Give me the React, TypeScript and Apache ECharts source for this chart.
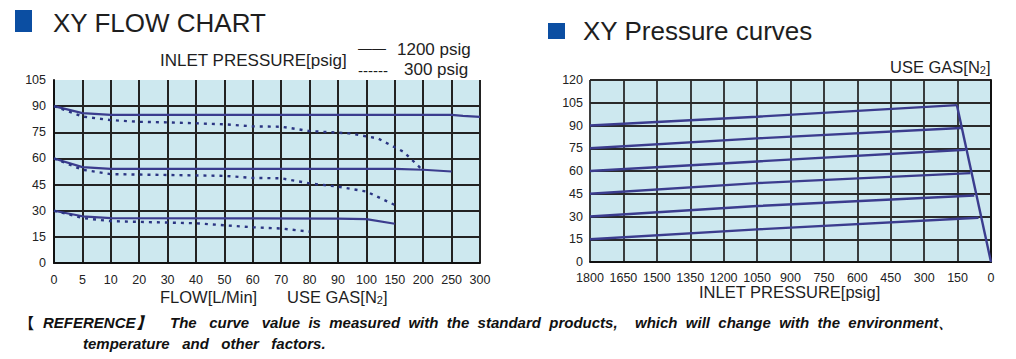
import React, { useEffect, useRef } from "react";
import * as echarts from "echarts";

// ---------- Left chart: XY FLOW CHART ----------
const flowTicks = [0, 5, 10, 20, 30, 40, 50, 60, 70, 80, 90, 100, 150, 200, 250, 300];

// 1200 psig (solid)
const hi90Flow = [0, 5, 10, 250, 270, 300];
const hi90Out = [90, 86, 85, 85, 84.4, 83.8];
const hi60Flow = [0, 5, 10, 150, 200, 250];
const hi60Out = [60, 55, 54, 54, 53.5, 52.5];
const hi30Flow = [0, 5, 10, 90, 100, 150];
const hi30Out = [30, 26.8, 25.8, 25.5, 25.2, 22.5];

// 300 psig (dotted)
const lo90Flow = [0, 5, 10, 20, 30, 50, 60, 70, 80, 94, 120, 150, 165, 200];
const lo90Out = [90, 84, 82, 81, 80.7, 79.6, 78.4, 78.2, 75.7, 74.4, 71.5, 66.4, 63.9, 53];
const lo60Flow = [0, 5, 10, 50, 60, 70, 80, 90, 100, 150];
const lo60Out = [60, 53.5, 51, 50, 48.8, 48.6, 45.7, 43.8, 41, 33.3];
const lo30Flow = [0, 5, 10, 40, 60, 70, 80];
const lo30Out = [30, 25.8, 24, 22.8, 20.5, 19.8, 18];

// ---------- Right chart: XY Pressure curves ----------
const p90In = [1800, 1050, 153];
const p90Out = [90, 95.8, 103.4];
const p75In = [1800, 1050, 135];
const p75Out = [75, 81.5, 88.4];
const p60In = [1800, 1050, 115];
const p60Out = [60, 66.3, 74];
const p45In = [1800, 1050, 93];
const p45Out = [45, 52, 58.6];
const p30In = [1800, 1050, 75];
const p30Out = [30, 36.9, 43.8];
const p15In = [1800, 1050, 56];
const p15Out = [15, 21.5, 29.2];
const dropIn = [153, 0];
const dropOut = [103.4, 0];

function flowToPos(f: number): number {
  for (let i = 0; i < flowTicks.length - 1; i++) {
    const a = flowTicks[i];
    const b = flowTicks[i + 1];
    if (f >= a && f <= b) return i + (f - a) / (b - a);
  }
  return flowTicks.length - 1;
}

const zipFlow = (xs: number[], ys: number[]) => xs.map((x, i) => [flowToPos(x), ys[i]]);
const zip = (xs: number[], ys: number[]) => xs.map((x, i) => [x, ys[i]]);

const LINE = "#3b3c8e";
const DOT = "#2b3583";
const GRID_BG = "#cde8ef";
const TICK_FONT = "Liberation Sans";

export default function App() {
  const ref = useRef<HTMLDivElement>(null);

  useEffect(() => {
    if (!ref.current) return;
    const chart = echarts.init(ref.current, undefined, { renderer: "svg" });

    const solid = (d: number[][]) => ({
      type: "line",
      xAxisIndex: 0,
      yAxisIndex: 0,
      data: d,
      showSymbol: false,
      symbol: "none",
      lineStyle: { color: LINE, width: 2.2 },
    });
    const dotted = (d: number[][]) => ({
      type: "line",
      xAxisIndex: 0,
      yAxisIndex: 0,
      data: d,
      showSymbol: false,
      symbol: "none",
      lineStyle: { color: DOT, width: 2.4, type: [3, 5] },
    });
    const right = (d: number[][]) => ({
      type: "line",
      xAxisIndex: 1,
      yAxisIndex: 1,
      data: d,
      showSymbol: false,
      symbol: "none",
      lineStyle: { color: LINE, width: 2.4 },
    });

    const txt = (text: string, x: number, y: number, size: number, extra: any = {}) => ({
      type: "text",
      x,
      y,
      silent: true,
      style: {
        text,
        fontSize: size,
        fontFamily: "Liberation Sans",
        fill: "#1e1e1e",
        verticalAlign: "middle",
        align: "left",
        ...extra,
      },
    });

    const refFont = {
      fontFamily: "Liberation Sans",
      fontStyle: "italic",
      fontWeight: "bold",
      fill: "#111",
    };

    chart.setOption({
      animation: false,
      grid: [
        { left: 54, top: 80, width: 426, height: 183, show: true, backgroundColor: GRID_BG, borderWidth: 0 },
        { left: 590, top: 80, width: 401, height: 182, show: true, backgroundColor: GRID_BG, borderWidth: 0 },
      ],
      xAxis: [
        {
          type: "value",
          gridIndex: 0,
          min: 0,
          max: flowTicks.length - 1,
          interval: 1,
          axisLine: { show: true, lineStyle: { color: "#111", width: 2 } },
          axisTick: { show: false },
          axisLabel: {
            margin: 10,
            fontSize: 12.5,
            fontFamily: TICK_FONT,
            color: "#222",
            formatter: (v: number) => String(flowTicks[Math.round(v)]),
          },
          splitLine: { show: true, lineStyle: { color: "#222", width: 2 } },
        },
        {
          type: "value",
          gridIndex: 1,
          min: 0,
          max: 1800,
          interval: 150,
          inverse: true,
          axisLine: { show: true, lineStyle: { color: "#111", width: 2 } },
          axisTick: { show: false },
          axisLabel: {
            margin: 9,
            fontSize: 12.5,
            fontFamily: TICK_FONT,
            color: "#222",
            formatter: (v: number) => String(v),
          },
          splitLine: { show: true, lineStyle: { color: "#2a2a2a", width: 1.8 } },
        },
      ],
      yAxis: [
        {
          type: "value",
          gridIndex: 0,
          min: 0,
          max: 105,
          interval: 15,
          axisLine: { show: true, lineStyle: { color: "#111", width: 2 } },
          axisTick: { show: false },
          axisLabel: { margin: 8, fontSize: 12.5, fontFamily: TICK_FONT, color: "#222" },
          splitLine: { show: true, showMaxLine: false, lineStyle: { color: "#222", width: 2 } },
        },
        {
          type: "value",
          gridIndex: 1,
          min: 0,
          max: 120,
          interval: 15,
          axisLine: { show: true, lineStyle: { color: "#111", width: 2 } },
          axisTick: { show: false },
          axisLabel: { margin: 7, fontSize: 12.5, fontFamily: TICK_FONT, color: "#222" },
          splitLine: { show: true, lineStyle: { color: "#2a2a2a", width: 1.8 } },
        },
      ],
      series: [
        solid(zipFlow(hi90Flow, hi90Out)),
        solid(zipFlow(hi60Flow, hi60Out)),
        solid(zipFlow(hi30Flow, hi30Out)),
        dotted(zipFlow(lo90Flow, lo90Out)),
        dotted(zipFlow(lo60Flow, lo60Out)),
        dotted(zipFlow(lo30Flow, lo30Out)),
        right(zip(p90In, p90Out)),
        right(zip(p75In, p75Out)),
        right(zip(p60In, p60Out)),
        right(zip(p45In, p45Out)),
        right(zip(p30In, p30Out)),
        right(zip(p15In, p15Out)),
        right(zip(dropIn, dropOut)),
      ],
      graphic: [
        { type: "rect", shape: { x: 15, y: 10, width: 17, height: 22 }, style: { fill: "#0b4ea2" }, silent: true },
        txt("XY FLOW CHART", 53, 23, 26),
        { type: "rect", shape: { x: 548, y: 23, width: 17, height: 16 }, style: { fill: "#0b4ea2" }, silent: true },
        txt("XY Pressure curves", 583, 30.5, 26),
        txt("INLET PRESSURE[psig]", 160, 60, 17),
        txt("——", 358, 48, 14),
        txt("1200 psig", 397, 49, 17),
        txt("------", 358, 70, 15),
        txt("300 psig", 404, 69, 17),
        txt("FLOW[L/Min]", 160, 297, 16.5),
        txt("USE GAS[N{s|2}]", 287, 297, 16.5, { rich: { s: { fontSize: 11, verticalAlign: "bottom", fontFamily: "Liberation Sans", fill: "#1e1e1e" } } }),
        txt("USE GAS[N{s|2}]", 890, 67, 16.5, { rich: { s: { fontSize: 11, verticalAlign: "bottom", fontFamily: "Liberation Sans", fill: "#1e1e1e" } } }),
        txt("INLET PRESSURE[psig]", 699, 292, 16.5),
        txt("【", 19, 322, 15, { fontFamily: "Noto Sans CJK SC", fontWeight: "bold", fill: "#111" }),
        txt("REFERENCE】", 43, 322, 15, refFont),
        txt("The   curve   value  is  measured  with  the  standard  products,", 170, 322, 15, refFont),
        txt("which  will  change  with  the  environment、", 635, 322, 15, refFont),
        txt("temperature   and   other   factors.", 83, 343, 15, refFont),
      ],
    });

    return () => chart.dispose();
  }, []);

  return <div ref={ref} style={{ position: "absolute", left: 0, top: 0, width: 1016, height: 359 }} />;
}
